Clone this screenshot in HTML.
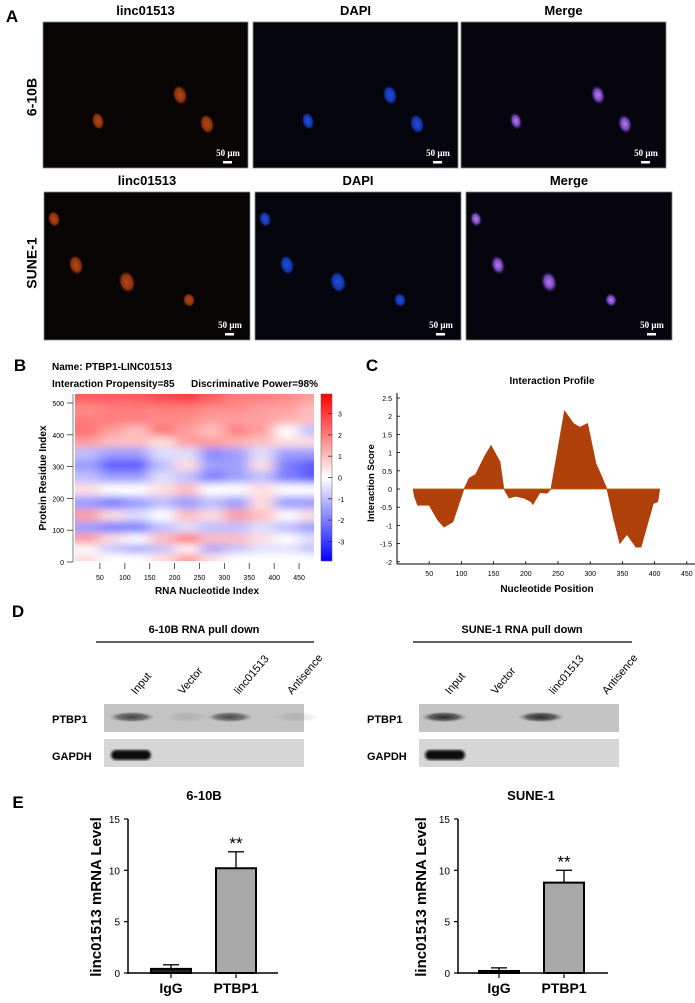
<!DOCTYPE html>
<html><head><meta charset="utf-8"><style>
html,body{margin:0;padding:0;background:#fff;}
svg{display:block;font-family:"Liberation Sans",Arial,sans-serif;}
</style></head><body>
<svg id="fig" width="695" height="1003" viewBox="0 0 695 1003" xmlns="http://www.w3.org/2000/svg">
<defs>
<radialGradient id="gRed"><stop offset="0" stop-color="#c8501a"/><stop offset="0.7" stop-color="#9a350c"/><stop offset="1" stop-color="#3a1005" stop-opacity="0"/></radialGradient>
<radialGradient id="gBlue"><stop offset="0" stop-color="#2458f0"/><stop offset="0.7" stop-color="#1638b8"/><stop offset="1" stop-color="#061040" stop-opacity="0"/></radialGradient>
<radialGradient id="gMerge"><stop offset="0" stop-color="#d090f0"/><stop offset="0.6" stop-color="#7a48d0"/><stop offset="1" stop-color="#201040" stop-opacity="0"/></radialGradient>
<radialGradient id="gBand"><stop offset="0" stop-color="#222"/><stop offset="0.6" stop-color="#444" stop-opacity="0.8"/><stop offset="1" stop-color="#999" stop-opacity="0"/></radialGradient>
<filter id="blurH" x="-10%" y="-10%" width="120%" height="120%"><feGaussianBlur stdDeviation="7 4"/></filter>
<filter id="soft"><feGaussianBlur stdDeviation="1.2"/></filter>
<clipPath id="hmClip"><rect x="75" y="394" width="239" height="167"/></clipPath>
<linearGradient id="cbar" x1="0" y1="0" x2="0" y2="1"><stop offset="0" stop-color="#ff0000"/><stop offset="0.5" stop-color="#ffffff"/><stop offset="1" stop-color="#0000ff"/></linearGradient>
</defs>
<g id="root"></g>
</svg>
<script>
// ---------- data ----------
const profileNt = [25,27,32,50,63,73,87,104,112,122,136,146,160,166,174,184,197,208,211,222,233,239,260,274,284,296,309,319,326,336,346,357,371,379,398,405,408];
const profileScore = [0,-0.2,-0.45,-0.45,-0.85,-1.05,-0.9,0,0.3,0.4,0.9,1.2,0.75,0,-0.25,-0.2,-0.25,-0.35,-0.43,-0.1,-0.12,0,2.15,1.8,1.7,1.8,0.7,0.3,0,-0.8,-1.5,-1.25,-1.6,-1.6,-0.4,-0.35,0];
const profileXTicks = [50,100,150,200,250,300,350,400,450];
const profileYTicks = [2.5,2,1.5,1,0.5,0,-0.5,-1,-1.5,-2];

const hmCols = [25,75,125,175,225,275,325,375,425,475];
const hmRows = [520,480,450,410,380,340,305,265,230,185,145,110,70,40,15];
const hmRow520 = [2.5,2.5,2.5,2.8,3,2.5,2,2,1.8,1.5];
const hmRow480 = [1.8,2,2,2,2,1.8,1.8,1.5,1.5,1];
const hmRow450 = [2,2,2,1.8,1.8,1.5,1.5,1.5,1.2,1];
const hmRow410 = [2.2,1.5,1,2.2,1.5,1,2,1.5,0,-1];
const hmRow380 = [1.5,1,1,0.5,1.5,1.5,1.2,1,0.5,0.5];
const hmRow340 = [-1,-1.5,-1.5,-0.5,-0.5,-1.8,-1.5,-0.5,-1.5,-1.5];
const hmRow305 = [-1.5,-2.5,-2.5,-1,0.5,-1.5,-1.5,0.5,-2,-2.5];
const hmRow265 = [-1,-1.5,-1.5,-0.5,-1,-2,-1.5,-1,-2,-2.5];
const hmRow230 = [0.5,0,0,0.5,1,0,0,0.5,0,0];
const hmRow185 = [-1.5,-2,-1.5,-1,-1.5,-1,-1.5,0.5,-1.5,-1.5];
const hmRow145 = [1.5,0.5,-0.5,0,1,0.5,1.5,1,0,0.5];
const hmRow110 = [-1.5,-2,-2,-1,-0.5,-1,-1,-0.5,-1,-1.5];
const hmRow70 = [1.5,0.5,0,1,2,1,1,0.5,0,-0.5];
const hmRow40 = [0,-1,-1.5,-1,0,-1.5,-1,-0.5,-0.5,-1];
const hmRow15 = [0.5,0,0,0.5,1.5,0.5,0,0,0,0];
const hmValues = [hmRow520,hmRow480,hmRow450,hmRow410,hmRow380,hmRow340,hmRow305,hmRow265,hmRow230,hmRow185,hmRow145,hmRow110,hmRow70,hmRow40,hmRow15];
const hmXTicks = [50,100,150,200,250,300,350,400,450];
const hmYTicks = [0,100,200,300,400,500];
const cbTicks = [3,2,1,0,-1,-2,-3];

const barCats = ["IgG","PTBP1"];
const bars610B = [0.4,10.2];
const err610B = [0.4,1.6];
const barsSUNE = [0.2,8.8];
const errSUNE = [0.3,1.2];
const barYTicks = [0,5,10,15];

// ---------- helpers ----------
const NS="http://www.w3.org/2000/svg";
const root=document.getElementById('root');
function el(tag,attrs,parent,text){const e=document.createElementNS(NS,tag);for(const k in attrs)e.setAttribute(k,attrs[k]);if(text!==undefined)e.textContent=text;(parent||root).appendChild(e);return e;}
function txt(x,y,s,opt,parent,name){const t=el('text',Object.assign({x:x,y:y,'font-size':12,'font-weight':'bold','text-anchor':'middle',fill:'#000'},opt||{}),parent,s);


return t;}

// ---------- Panel A ----------
txt(12,22,"A",{'font-size':17},null,'panel-a-letter');
const frames=[
 {y:22,h:146,xs:[43,253,461],w:205,label:"6-10B",ly:97,ty:15,
  nuclei:[[137,73,7,10],[55,99,6,9],[164,102,7,10]]},
 {y:192,h:148,xs:[44,255,466],w:206,label:"SUNE-1",ly:263,ty:185,
  nuclei:[[10,27,6,8],[32,73,7,10],[83,90,8,11],[145,108,6,7]]}
];
const chans=[["linc01513","gRed","#080404"],["DAPI","gBlue","#04040c"],["Merge","gMerge","#06040c"]];
frames.forEach((f,ri)=>{
  txt(33,f.ly,f.label,{'font-size':14,transform:`rotate(-90 33 ${f.ly})`,'dominant-baseline':'middle'},null,'row-label-'+f.label.toLowerCase());
  f.xs.forEach((x,ci)=>{
    const g=el('g',{});
    
    
    txt(x+f.w/2,f.ty,chans[ci][0],{'font-size':13},g,'channel-title');
    el('rect',{x:x,y:f.y,width:f.w,height:f.h,fill:chans[ci][2],stroke:'#888','stroke-width':0.8},g);
    f.nuclei.forEach(n=>{el('ellipse',{cx:x+n[0],cy:f.y+n[1],rx:n[2],ry:n[3],fill:`url(#${chans[ci][1]})`,opacity:0.9,transform:`rotate(-15 ${x+n[0]} ${f.y+n[1]})`},g);});
    txt(x+f.w-20,f.y+f.h-12,"50 μm",{'font-size':9,fill:'#fff','font-family':'Liberation Serif, serif'},g,'scale-bar-label');
    el('rect',{x:x+f.w-25,y:f.y+f.h-7,width:9,height:2.5,fill:'#fff'},g);
  });
});

// ---------- Panel B: heatmap ----------
txt(20,371,"B",{'font-size':17},null,'panel-b-letter');
txt(52,370,"Name: PTBP1-LINC01513",{'font-size':10,'text-anchor':'start'},null,'heatmap-name');
txt(52,387,"Interaction Propensity=85",{'font-size':10,'text-anchor':'start'},null,'interaction-propensity');
txt(191,387,"Discriminative Power=98%",{'font-size':10,'text-anchor':'start'},null,'discriminative-power');
const hx=v=>75+v/480*239;
const hy=v=>562-v/500*159;
function colorOf(v){const t=Math.max(-1,Math.min(1,v/3.9));
 if(t>=0){const c=Math.round(255*(1-t));return `rgb(255,${c},${c})`;}
 const c=Math.round(255*(1+t));return `rgb(${c},${c},255)`;}
const hmG=el('g',{'clip-path':'url(#hmClip)'});


const hmInner=el('g',{filter:'url(#blurH)'},hmG);
el('rect',{x:60,y:380,width:270,height:200,fill:'#fff'},hmInner);
hmValues.forEach((row,ri)=>{
  const r=hmRows[ri];
  const up=ri===0?560:(hmRows[ri-1]+r)/2, dn=ri===hmRows.length-1?-30:(hmRows[ri+1]+r)/2;
  row.forEach((v,ci)=>{
    const c=hmCols[ci];
    const l=ci===0?-30:(hmCols[ci-1]+c)/2, rr=ci===hmCols.length-1?520:(hmCols[ci+1]+c)/2;
    const cell=el('rect',{x:hx(l),y:hy(up),width:hx(rr)-hx(l),height:hy(dn)-hy(up),fill:colorOf(v)},hmInner);
    
    
  });
});
el('line',{x1:73,y1:394,x2:73,y2:562,stroke:'#333','stroke-width':0.6});
hmYTicks.forEach(t=>{el('line',{x1:67,x2:73,y1:hy(t),y2:hy(t),stroke:'#333','stroke-width':0.8});
 txt(64,hy(t)+3,String(t),{'font-size':7,'font-weight':'normal','text-anchor':'end'},null,'heatmap-y-tick');});
hmXTicks.forEach(t=>{el('line',{x1:hx(t),x2:hx(t),y1:563,y2:569,stroke:'#333','stroke-width':0.8});
 txt(hx(t),580,String(t),{'font-size':7,'font-weight':'normal'},null,'heatmap-x-tick');});
txt(207,594,"RNA Nucleotide Index",{'font-size':10},null,'heatmap-x-title');
txt(46,478,"Protein Residue Index",{'font-size':10,transform:'rotate(-90 46 478)'},null,'heatmap-y-title');
const cb=el('rect',{x:321,y:394,width:11,height:167,fill:'url(#cbar)',stroke:'#555','stroke-width':0.5});


cbTicks.forEach(t=>{const y=477.5-t*21.3;el('line',{x1:328,x2:332,y1:y,y2:y,stroke:'#333','stroke-width':0.8});
 txt(338,y+3,String(t),{'font-size':7,'font-weight':'normal','text-anchor':'start'},null,'colorbar-tick');});

// ---------- Panel C: profile ----------
txt(372,371,"C",{'font-size':17},null,'panel-c-letter');
txt(552,384,"Interaction Profile",{'font-size':10},null,'profile-title');
const px=v=>397+v/50*32.2;
const py=v=>489-v*36.4;
el('line',{x1:397,y1:393,x2:397,y2:564,stroke:'#000','stroke-width':1});
el('line',{x1:397,y1:564,x2:695,y2:564,stroke:'#000','stroke-width':1});
profileYTicks.forEach(t=>{el('line',{x1:397,x2:400,y1:py(t),y2:py(t),stroke:'#000','stroke-width':0.8});
 txt(392,py(t)+3,String(t),{'font-size':7,'font-weight':'normal','text-anchor':'end'},null,'profile-y-tick');});
profileXTicks.forEach(t=>{el('line',{x1:px(t),x2:px(t),y1:564,y2:561,stroke:'#000','stroke-width':0.8});
 txt(px(t),576,String(t),{'font-size':7,'font-weight':'normal'},null,'profile-x-tick');});
let d=`M${px(profileNt[0])},${py(0)}`;
profileNt.forEach((n,i)=>{d+=` L${px(n)},${py(profileScore[i])}`;});
d+=` L${px(profileNt[profileNt.length-1])},${py(0)} Z`;
const area=el('path',{d:d,fill:'#b0400a',stroke:'#b0400a','stroke-width':0.6});


el('line',{x1:px(profileNt[0]),x2:px(profileNt[profileNt.length-1]),y1:py(0),y2:py(0),stroke:'#c8601a','stroke-width':0.8});
txt(547,592,"Nucleotide Position",{'font-size':10},null,'profile-x-title');
txt(374,483,"Interaction Score",{'font-size':9.5,transform:'rotate(-90 374 483)'},null,'profile-y-title');

// ---------- Panel D: western blots ----------
txt(18,617,"D",{'font-size':17},null,'panel-d-letter');
const blots=[
 {title:"6-10B RNA pull down",cx:204,l1:96,l2:314,lanes:[140,187,243,296],bx:104,bw:200,lab:52,
  ptbp:[[132,0.8],[230,0.75],[187,0.12],[296,0.12]],gapdh:[[131,1.0]]},
 {title:"SUNE-1 RNA pull down",cx:522,l1:413,l2:632,lanes:[454,500,558,611],bx:419,bw:200,lab:367,
  ptbp:[[444,0.95],[541,0.95]],gapdh:[[445,1.0]]}
];
const laneNames=["Input","Vector","linc01513","Antisence"];
blots.forEach((b,bi)=>{
  const g=el('g',{});
  
  
  txt(b.cx,633,b.title,{'font-size':11},g,'blot-title');
  el('line',{x1:b.l1,x2:b.l2,y1:642,y2:642,stroke:'#000','stroke-width':1.2},g);
  b.lanes.forEach((lx,i)=>{txt(lx-4,695,laneNames[i],{'font-size':11,'font-weight':'normal','text-anchor':'start',transform:`rotate(-50 ${lx-4} 695)`},g,'lane-label');});
  el('rect',{x:b.bx,y:704,width:b.bw,height:28,fill:'#c4c4c4'},g);
  el('rect',{x:b.bx,y:739,width:b.bw,height:28,fill:'#d6d6d6'},g);
  txt(b.lab,723,"PTBP1",{'font-size':11,'text-anchor':'start'},g,'ptbp1-row-label');
  txt(b.lab,760,"GAPDH",{'font-size':11,'text-anchor':'start'},g,'gapdh-row-label');
  b.ptbp.forEach(p=>{el('ellipse',{cx:p[0],cy:717,rx:24,ry:5.5,fill:'url(#gBand)',opacity:p[1]},g);});
  b.gapdh.forEach(p=>{el('rect',{x:p[0]-20,y:750,width:40,height:10,rx:5,fill:'#111',opacity:p[1],filter:'url(#soft)'},g);});
});

// ---------- Panel E: bar charts ----------
txt(18,808,"E",{'font-size':17},null,'panel-e-letter');
function barChart(ax0,title,tcx,vals,errs,centers,ytx){
  const g=el('g',{});
  
  
  const by=v=>973-v*10.27;
  txt(tcx,800,title,{'font-size':13},g,'bar-chart-title');
  el('line',{x1:ax0,x2:ax0,y1:by(15),y2:974,stroke:'#000','stroke-width':1.5},g);
  el('line',{x1:ax0,x2:ax0+150,y1:973,y2:973,stroke:'#000','stroke-width':1.5},g);
  barYTicks.forEach(t=>{el('line',{x1:ax0-4,x2:ax0,y1:by(t),y2:by(t),stroke:'#000','stroke-width':1.2},g);
    txt(ax0-8,by(t)+4,String(t),{'font-size':10,'font-weight':'normal','text-anchor':'end'},g,'bar-y-tick');});
  vals.forEach((v,i)=>{
    const cx=centers[i];
    el('line',{x1:cx,x2:cx,y1:973,y2:978,stroke:'#000','stroke-width':1.2},g);
    el('line',{x1:cx,x2:cx,y1:by(v),y2:by(v+errs[i]),stroke:'#000','stroke-width':1.3},g);
    el('line',{x1:cx-8,x2:cx+8,y1:by(v+errs[i]),y2:by(v+errs[i]),stroke:'#000','stroke-width':1.3},g);
    const r=el('rect',{x:cx-20,y:by(v),width:40,height:973-by(v),fill:i===0?'#222':'#a8a8a8',stroke:'#000','stroke-width':2},g);
    
    
    txt(cx,993,barCats[i],{'font-size':14},g,'bar-x-label');
  });
  txt(centers[1],by(vals[1]+errs[1])-3,"**",{'font-size':17,'font-weight':'normal'},g,'significance-mark');
  txt(ytx,897,"linc01513 mRNA Level",{'font-size':15,transform:`rotate(-90 ${ytx} 897)`},g,'bar-y-title');
}
barChart(128,"6-10B",204,bars610B,err610B,[171,236],101);
barChart(458,"SUNE-1",531,barsSUNE,errSUNE,[499,564],426);
</script>
</body></html>
